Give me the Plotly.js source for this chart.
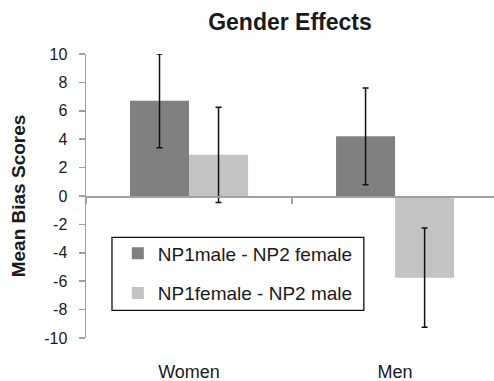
<!DOCTYPE html>
<html>
<head>
<meta charset="utf-8">
<script src="https://cdn.plot.ly/plotly-3.0.1.min.js"></script>
<style>html,body{margin:0;padding:0;background:#fff;}#chart{width:494px;height:381px;}</style>
</head>
<body>
<div id="chart"></div>
<script>
var categories = ["Women", "Men"];
var seriesNames = ["NP1male - NP2 female", "NP1female - NP2 male"];
var maleFemaleValues = [6.7, 4.2];
var maleFemaleErrors = [3.3, 3.4];
var femaleMaleValues = [2.9, -5.75];
var femaleMaleErrors = [3.35, 3.5];
var yTickValues = [-10, -8, -6, -4, -2, 0, 2, 4, 6, 8, 10];

var font = "Liberation Sans, Arial, Helvetica, sans-serif";
var textColor = "#1a1a1a";
var axisColor = "#a0a0a0";

var traces = [
  {
    type: "bar", name: seriesNames[0], x: categories, y: maleFemaleValues,
    marker: {color: "#808080"},
    error_y: {type: "data", array: maleFemaleErrors, visible: true, color: "#111", thickness: 1.5, width: 3},
    legendgroup: "a", xaxis: "x", yaxis: "y"
  },
  {
    type: "bar", name: seriesNames[1], x: categories, y: femaleMaleValues,
    marker: {color: "#c3c3c3"},
    error_y: {type: "data", array: femaleMaleErrors, visible: true, color: "#111", thickness: 1.5, width: 3},
    legendgroup: "b", xaxis: "x", yaxis: "y"
  },
  {
    type: "bar", x: categories, y: [null, null], showlegend: false, hoverinfo: "skip",
    xaxis: "x2", yaxis: "y"
  }
];

var layout = {
  width: 494, height: 381,
  margin: {l: 86, r: 0, t: 54, b: 43, pad: 0},
  paper_bgcolor: "#fff", plot_bgcolor: "#fff",
  font: {family: font, color: textColor},
  title: {
    text: "<b>Gender Effects</b>",
    font: {family: font, size: 23, color: textColor},
    x: 0.5, xref: "paper", xanchor: "center",
    y: 0.942, yref: "container", yanchor: "middle"
  },
  barmode: "group", bargap: 0.427, bargroupgap: 0,
  showlegend: true,
  legend: {
    x: 0.078, xanchor: "left", y: 0.365, yanchor: "top",
    bgcolor: "rgba(255,255,255,0)", borderwidth: 0,
    font: {family: font, size: 19, color: textColor},
    traceorder: "grouped", tracegroupgap: 12
  },
  xaxis: {
    type: "category", range: [-0.5, 1.48], fixedrange: true,
    showline: false, showgrid: false, zeroline: false,
    ticks: "outside", ticklen: 17, tickcolor: "rgba(0,0,0,0)",
    tickfont: {family: font, size: 18, color: textColor}
  },
  xaxis2: {
    type: "category", matches: "x", overlaying: "x", anchor: "free", position: 0.5,
    showline: true, linecolor: axisColor, linewidth: 1.5,
    ticks: "outside", tickson: "boundaries", ticklen: 6, tickcolor: axisColor, tickwidth: 1.5,
    showticklabels: false, showgrid: false, zeroline: false
  },
  yaxis: {
    range: [-10, 10], fixedrange: true,
    tickmode: "array", tickvals: yTickValues, ticktext: yTickValues.map(String),
    showline: true, linecolor: axisColor, linewidth: 1.5,
    ticks: "outside", ticklen: 6, tickcolor: axisColor, tickwidth: 1.5,
    ticklabelstandoff: 8,
    showgrid: false, zeroline: false,
    tickfont: {family: font, size: 16, color: textColor},
    title: {text: "<b>Mean Bias Scores</b>", font: {family: font, size: 19, color: textColor}, standoff: 13}
  },
  shapes: [
    {type: "rect", xref: "paper", yref: "paper", x0: 0.0637, x1: 0.681, y0: 0.097, y1: 0.3545,
     line: {color: "#111", width: 1.3}, fillcolor: "rgba(0,0,0,0)"}
  ]
};

Plotly.newPlot("chart", traces, layout, {displayModeBar: false, staticPlot: true});
</script>
</body>
</html>
